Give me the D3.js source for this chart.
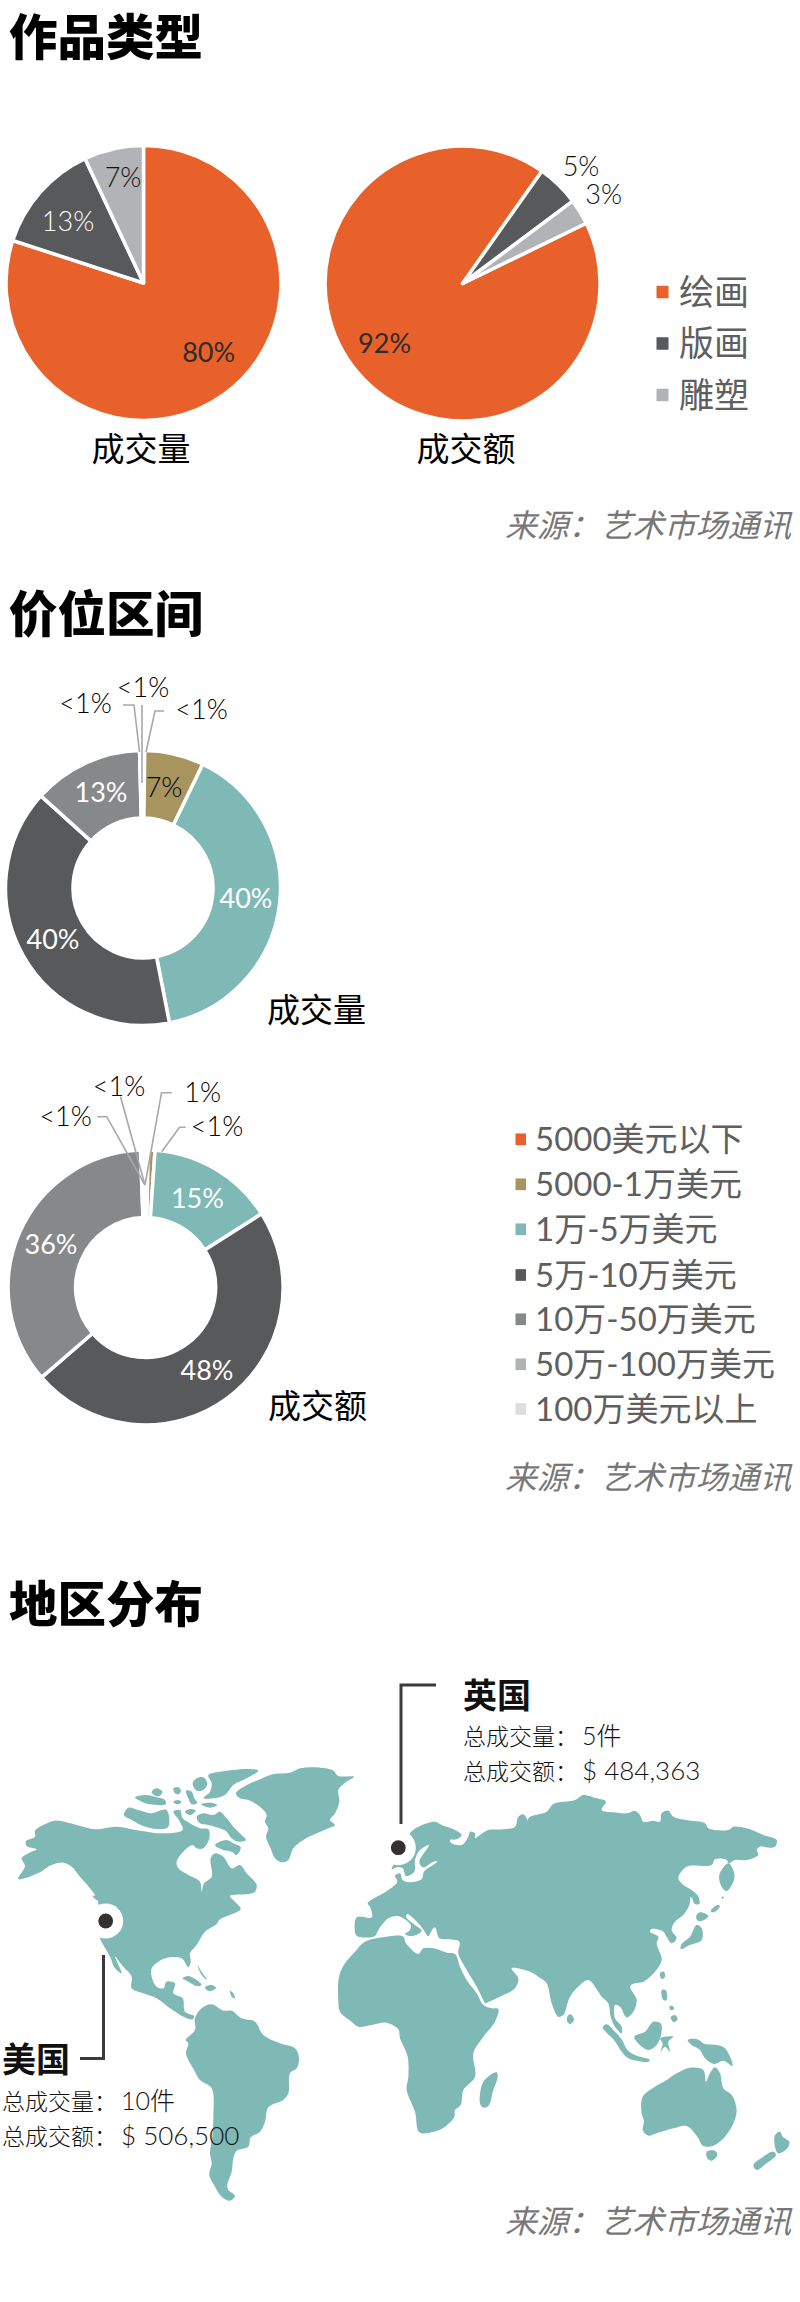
<!DOCTYPE html>
<html>
<head>
<meta charset="utf-8">
<script src="https://cdn.jsdelivr.net/npm/d3@7"></script>
<style>
  html, body { margin: 0; padding: 0; background: #fff; }
  svg { display: block; }
  text { font-family: Lato, "Noto Sans CJK SC", sans-serif; }
</style>
</head>
<body>
<div id="chart"></div>
<script>
// ---- data ----
const typeCategories = ['绘画', '版画', '雕塑'];
const typeVolume = [80, 13, 7];
const typeValue = [92, 5, 3];
const typeVolumeLabels = ['80%', '13%', '7%'];
const typeValueLabels = ['92%', '5%', '3%'];

const priceCategories = ['5000美元以下', '5000-1万美元', '1万-5万美元', '5万-10万美元', '10万-50万美元', '50万-100万美元', '100万美元以上'];
const priceVolume = [0.2, 7, 40, 40, 13, 0.2, 0.2];
const priceValue = [0.3, 0.8, 15, 48, 36, 0.3, 0.3];

const sourceText = '来源：艺术市场通讯';

// map outlines in 3x crop units
const naMain = [[165,182],[230,195],[285,208],[350,200],[420,212],[490,220],[548,210],[538,182],[520,155],[540,150],[548,175],[570,190],[600,205],[625,208],[628,235],[610,265],[590,265],[578,255],[550,275],[530,305],[535,325],[565,345],[600,365],[605,395],[612,370],[635,350],[632,295],[645,280],[670,290],[695,325],[720,315],[740,340],[770,375],[765,395],[745,402],[690,408],[705,425],[722,447],[690,465],[660,478],[650,492],[615,515],[590,555],[570,580],[572,605],[565,622],[545,595],[510,592],[475,605],[455,625],[455,650],[470,680],[490,685],[500,665],[525,670],[520,700],[548,715],[555,755],[582,768],[578,778],[550,770],[510,745],[470,715],[430,700],[395,685],[395,650],[370,620],[345,590],[365,640],[345,625],[330,590],[310,555],[300,535],[295,430],[285,405],[262,375],[240,350],[215,320],[190,308],[148,318],[120,337],[55,357],[75,318],[65,295],[85,280],[110,268],[80,258],[78,243],[105,230],[105,212],[130,195]];
const naIslands = [
  [[278,408],[290,408],[300,420],[290,420]],
  [[372,165],[385,143],[415,150],[455,160],[478,152],[500,150],[505,200],[470,207],[430,198],[395,180]],
  [[405,112],[435,105],[470,112],[495,120],[497,133],[450,133],[425,125]],
  [[455,97],[468,85],[487,95],[478,108],[465,107]],
  [[520,85],[535,82],[543,92],[535,103],[525,100]],
  [[520,125],[535,120],[545,127],[532,133]],
  [[558,92],[575,95],[583,115],[592,128],[575,133],[565,115]],
  [[603,133],[630,128],[652,135],[630,143]],
  [[555,155],[570,147],[587,152],[570,165]],
  [[590,170],[610,160],[640,165],[660,155],[680,175],[700,200],[725,225],[738,240],[715,245],[695,235],[680,215],[660,205],[625,195],[600,190]],
  [[645,255],[680,240],[700,250],[722,262],[710,285],[695,275],[670,270]],
  [[610,115],[630,95],[635,70],[625,45],[660,35],[700,30],[745,27],[775,32],[740,55],[700,75],[675,105],[640,115]],
  [[578,70],[590,55],[610,52],[622,70],[610,90],[590,92]],
  [[708,100],[740,75],[775,60],[820,42],[870,38],[900,25],[950,22],[1000,32],[1015,48],[1062,50],[1035,68],[1015,90],[1018,125],[1005,160],[990,180],[1005,195],[985,205],[950,220],[910,240],[880,265],[865,300],[845,307],[825,295],[812,265],[798,230],[805,205],[795,185],[800,165],[780,140],[745,120],[720,115]],
  [[548,655],[565,648],[590,660],[605,675],[590,678],[565,665]],
  [[615,682],[632,675],[648,683],[632,693],[620,690]],
  [[592,615],[605,635],[622,660],[605,645]],
  [[690,692],[700,700],[705,715],[695,710]]
];
const southAmerica = [[225,85],[245,55],[275,43],[310,62],[335,62],[365,85],[405,95],[430,135],[480,160],[525,175],[537,205],[530,235],[510,250],[505,310],[490,330],[445,352],[435,395],[420,425],[392,442],[385,470],[350,482],[340,505],[335,545],[322,585],[325,600],[345,618],[330,632],[305,620],[285,590],[268,555],[275,520],[270,490],[277,440],[280,380],[275,295],[240,270],[222,240],[198,190],[205,160],[197,150],[225,120]];
const africaNorth = [[57,500],[75,460],[105,425],[135,395],[200,380],[250,380],[258,400],[295,432],[310,415],[340,415],[380,428],[405,432],[420,470],[440,510],[470,550],[490,585],[515,595],[535,597]];
const africaSouth = [[525,125],[490,170],[460,220],[465,290],[430,330],[422,375],[405,390],[403,410],[375,440],[335,457],[298,457],[285,395],[260,330],[265,290],[263,230],[240,175],[235,148],[200,128],[155,135],[115,140],[95,125],[60,95],[55,60]];
const madagascar = [[490,305],[530,277],[533,290],[520,330],[505,378],[488,382],[480,370]];
const eurasiaWest = [[495,580],[470,530],[440,480],[415,430],[418,395],[380,388],[358,385],[345,352],[335,362],[325,378],[312,362],[295,340],[262,312],[258,320],[285,345],[305,362],[278,378],[255,372],[270,360],[272,345],[250,325],[232,318],[205,325],[175,360],[165,378],[125,382],[108,375],[110,322],[155,322],[150,290],[143,280],[205,240],[232,215],[225,197],[240,190],[248,210],[270,217],[305,207],[312,185],[352,155],[340,155],[310,172],[298,155],[327,105],[300,120],[285,150],[283,185],[258,198],[248,175],[230,172],[215,178],[220,165],[270,100],[270,70],[300,48],[345,35],[365,45],[405,60],[425,75],[410,88],[390,90],[395,100],[425,105],[445,80],[450,65],[465,70],[465,85]];
const eurasiaEast = [[0,165],[25,150],[70,148],[105,140],[115,110],[130,103],[142,120],[150,163],[145,115],[200,95],[220,72],[285,60],[310,45],[350,55],[378,65],[365,90],[400,97],[440,100],[465,93],[480,105],[490,125],[520,122],[540,125],[545,100],[565,92],[580,110],[620,120],[675,130],[685,145],[745,150],[760,140],[800,145],[850,165],[890,180],[885,200],[870,203],[840,200],[830,210],[835,225],[800,240],[765,240],[745,250],[740,240],[705,238],[695,255],[625,258],[608,270],[595,295],[610,315],[635,330],[655,350],[658,372],[645,372],[633,350],[628,375],[610,405],[585,425],[575,450],[590,475],[575,490],[560,470],[550,455],[515,447],[510,455],[535,470],[530,490],[545,540],[525,575],[490,605],[465,610],[450,620],[470,660],[460,695],[440,712],[420,680],[405,675],[405,715],[425,740],[425,760],[405,740],[392,710],[385,670],[365,650],[355,635],[325,600],[300,615],[270,650],[250,705],[235,710],[215,670],[200,610],[175,590],[150,575],[95,565],[115,595],[105,625],[60,650],[15,670]];
const eastAsiaIslands = [
  [[745,250],[760,270],[762,300],[740,333],[725,320],[718,285]],
  [[725,350],[732,352],[728,357]],
  [[692,393],[712,375],[720,378],[702,397]],
  [[648,410],[660,397],[685,408],[672,420],[655,423]],
  [[602,507],[605,492],[630,470],[650,435],[665,445],[665,480],[630,495]],
  [[540,580],[552,575],[555,590],[545,597]],
  [[545,630],[557,630],[560,660],[550,660]],
  [[568,680],[578,678],[582,688],[572,690]],
  [[572,712],[585,705],[593,717],[582,727]],
  [[262,710],[272,703],[282,720],[270,732],[262,725]]
];
const oceania = [
  [[188,112],[200,103],[220,120],[245,148],[262,180],[285,195],[330,210],[325,215],[290,212],[265,205],[245,185],[222,150],[200,128]],
  [[283,140],[315,125],[340,95],[362,100],[365,125],[350,165],[325,180],[300,165]],
  [[360,145],[400,140],[385,155],[390,185],[375,170],[362,185],[368,160]],
  [[443,150],[470,147],[495,162],[530,165],[555,175],[578,228],[550,212],[522,222],[495,205],[480,180],[455,165]],
  [[308,320],[345,290],[380,270],[410,250],[450,233],[490,240],[498,275],[510,250],[525,232],[540,250],[550,295],[575,315],[590,360],[580,400],[555,440],[520,467],[490,468],[472,440],[440,408],[400,415],[350,430],[325,437],[308,420],[312,395],[305,370]],
  [[500,485],[525,482],[532,495],[515,512],[502,505]],
  [[705,435],[720,425],[728,440],[748,455],[742,475],[715,490],[705,470]],
  [[640,525],[670,500],[700,485],[708,495],[680,520],[650,540]]
];

// ---- setup ----
const width = 800, height = 2302;
const ORANGE = '#e8602a', DARK = '#58595b', LIGHT = '#b1b3b6', MID = '#87888a', TAN = '#a7945f', TEAL = '#7fb9b5', PALE = '#dcddde';
const typeColor = d3.scaleOrdinal(typeCategories, [ORANGE, DARK, LIGHT]);
const priceColor = d3.scaleOrdinal(priceCategories, [ORANGE, TAN, TEAL, DARK, MID, LIGHT, PALE]);
const CJK = '"Noto Sans CJK SC", sans-serif';

const svg = d3.select('#chart').append('svg')
    .attr('width', width)
    .attr('height', height)
    .attr('viewBox', [0, 0, width, height]);

function label(text, x, y, size, fill, opts = {}) {
  return svg.append('text')
      .attr('x', x)
      .attr('y', y)
      .attr('font-size', size)
      .attr('fill', fill)
      .attr('text-anchor', opts.anchor || 'start')
      .attr('font-weight', opts.weight || 300)
      .attr('font-style', opts.style || 'normal')
      .style('font-family', opts.family || null)
      .text(text);
}

function donut(cats, values, color, {cx, cy, outer, inner = 0, start = 0, stroke = 3.5}) {
  const angle = start * Math.PI / 180;
  const arcs = d3.pie().sort(null).startAngle(angle).endAngle(angle + 2 * Math.PI)(values);
  svg.append('g')
      .attr('transform', `translate(${cx},${cy})`)
    .selectAll('path')
    .data(arcs)
    .join('path')
      .attr('d', d3.arc().innerRadius(inner).outerRadius(outer))
      .attr('fill', (d, i) => color(cats[i]))
      .attr('stroke', '#fff')
      .attr('stroke-width', stroke)
      .attr('stroke-linejoin', 'round');
}

function leader(points) {
  svg.append('path')
      .attr('d', d3.line()(points))
      .attr('fill', 'none')
      .attr('stroke', '#a8a8a8')
      .attr('stroke-width', 1.6);
}

function legend(cats, color, x, textX, ys, boxW, boxH, size) {
  svg.append('g').selectAll('rect')
    .data(cats)
    .join('rect')
      .attr('x', x)
      .attr('y', (d, i) => ys[i] - boxH / 2)
      .attr('width', boxW)
      .attr('height', boxH)
      .attr('fill', d => color(d));
  cats.forEach((d, i) => label(d, textX, ys[i] + size * 0.36, size, '#5f5f5f', {weight: 400}));
}

// ---- 作品类型 ----
label('作品类型', 9, 55, 48.5, '#000', {weight: 900, family: CJK});
donut(typeCategories, typeVolume, typeColor, {cx: 143.5, cy: 283, outer: 137.5});
donut(typeCategories, typeValue, typeColor, {cx: 462.6, cy: 283.5, outer: 137.5, start: 64});
[[208.7, 361.5, '#2f2c2a'], [68, 230.5, '#fff'], [123, 187, '#111']].forEach(([x, y, c], i) =>
  label(typeVolumeLabels[i], x, y, 27, c, {anchor: 'middle', weight: i === 0 ? 400 : 300}));
[[384.6, 352.5, '#2f2c2a'], [581, 176, '#111'], [603.6, 204, '#111']].forEach(([x, y, c], i) =>
  label(typeValueLabels[i], x, y, 27, c, {anchor: 'middle', weight: i === 0 ? 400 : 300}));
label('成交量', 141, 461, 33, '#000', {anchor: 'middle', family: CJK, weight: 400});
label('成交额', 466, 461, 33, '#000', {anchor: 'middle', family: CJK, weight: 400});
legend(typeCategories, typeColor, 656.5, 679, [292, 343.5, 395], 12, 12.5, 35);
label(sourceText, 505, 537, 31.8, '#777', {style: 'italic', family: CJK, weight: 400});

// ---- 价位区间 ----
label('价位区间', 9, 632, 48.5, '#000', {weight: 900, family: CJK});
donut(priceCategories, priceVolume, priceColor, {cx: 143, cy: 888, outer: 137.5, inner: 70});
leader([[123, 705], [134, 705], [139.5, 752]]);
leader([[142, 705], [142, 783]]);
leader([[164, 711], [155, 711], [146, 752]]);
[[85.5, 713], [143, 697], [201.5, 719]].forEach(([x, y]) => label('<1%', x, y, 27, '#000', {anchor: 'middle'}));
label('7%', 164, 796.5, 27, '#000', {anchor: 'middle'});
label('13%', 101, 801.5, 27, '#fff', {anchor: 'middle', weight: 400});
label('40%', 246, 907.5, 27, '#fff', {anchor: 'middle', weight: 400});
label('40%', 53, 948.5, 27, '#fff', {anchor: 'middle', weight: 400});
label('成交量', 267, 1022, 33, '#000', {family: CJK, weight: 400});

donut(priceCategories, priceValue, priceColor, {cx: 145.6, cy: 1287.5, outer: 137.5, inner: 70});
leader([[97.4, 1116.7], [106.7, 1116.7], [145, 1185]]);
leader([[120.5, 1096.7], [145, 1185]]);
leader([[171.8, 1092.7], [161.5, 1092.7], [145, 1185]]);
leader([[185.6, 1127.3], [179.5, 1127.3], [161.7, 1151.7]]);
[[65.6, 1125.5], [119, 1095.5], [217, 1136]].forEach(([x, y]) => label('<1%', x, y, 27, '#000', {anchor: 'middle'}));
label('1%', 202.6, 1101.5, 27, '#000', {anchor: 'middle'});
label('15%', 197.4, 1207.5, 27, '#fff', {anchor: 'middle', weight: 400});
label('36%', 51, 1253.5, 27, '#fff', {anchor: 'middle', weight: 400});
label('48%', 207, 1379.5, 27, '#fff', {anchor: 'middle', weight: 400});
label('成交额', 268, 1418, 33, '#000', {family: CJK, weight: 400});
legend(priceCategories, priceColor, 515.5, 535, [1139.3, 1184.3, 1229.3, 1275, 1319.3, 1364.3, 1409], 10.5, 11.7, 33);
label(sourceText, 505, 1489, 31.8, '#777', {style: 'italic', family: CJK, weight: 400});

// ---- 地区分布 ----
label('地区分布', 9, 1622, 48.5, '#000', {weight: 900, family: CJK});

// one pair of scales per crop the outlines were read from
const crop = (x0, y0) => {
  const x = d3.scaleLinear().domain([0, 3]).range([x0, x0 + 1]);
  const y = d3.scaleLinear().domain([0, 3]).range([y0, y0 + 1]);
  return ([a, b]) => [x(a), y(b)];
};
const cropNA = crop(0, 1760), cropSA = crop(120, 1990), cropEU = crop(320, 1810),
      cropAF = crop(320, 1980), cropAS = crop(480, 1780), cropOC = crop(540, 1990);
const land = [
  naMain.map(cropNA),
  ...naIslands.map(p => p.map(cropNA)),
  southAmerica.map(cropSA),
  [...africaNorth.map(cropEU), ...africaSouth.map(cropAF)],
  madagascar.map(cropAF),
  [...eurasiaWest.map(cropEU), ...eurasiaEast.map(cropAS)],
  ...eastAsiaIslands.map(p => p.map(cropAS)),
  ...oceania.map(p => p.map(cropOC))
];
const landLine = d3.line().curve(d3.curveCatmullRomClosed.alpha(0.5));
svg.append('g').selectAll('path')
  .data(land)
  .join('path')
    .attr('d', landLine)
    .attr('fill', TEAL);

// markers
[[105.7, 1921], [398.3, 1847.7]].forEach(([x, y]) => {
  svg.append('circle').attr('cx', x).attr('cy', y).attr('r', 17.5).attr('fill', '#fff');
  svg.append('circle').attr('cx', x).attr('cy', y).attr('r', 7.4).attr('fill', '#33302f');
});
const callout = d3.line();
[[[436, 1685], [401, 1685], [401, 1824]], [[80, 2058.5], [103.5, 2058.5], [103.5, 1955]]].forEach(points =>
  svg.append('path')
      .attr('d', callout(points))
      .attr('fill', 'none')
      .attr('stroke', '#3d3a3b')
      .attr('stroke-width', 3));

label('英国', 463, 1708, 34, '#111', {weight: 700, family: CJK});
label('总成交量：', 463, 1745, 23, '#111', {family: CJK});
label('5件', 582, 1745, 25, '#111');
label('总成交额：', 463, 1780, 23, '#111', {family: CJK});
label('$ 484,363', 582, 1780, 26, '#111');
label('美国', 2, 2072, 34, '#111', {weight: 700, family: CJK});
label('总成交量：', 2, 2110, 23, '#111', {family: CJK});
label('10件', 121, 2110, 25, '#111');
label('总成交额：', 2, 2145, 23, '#111', {family: CJK});
label('$ 506,500', 121, 2145, 26, '#111');
label(sourceText, 505, 2233, 31.8, '#777', {style: 'italic', family: CJK, weight: 400});
</script>
</body>
</html>
